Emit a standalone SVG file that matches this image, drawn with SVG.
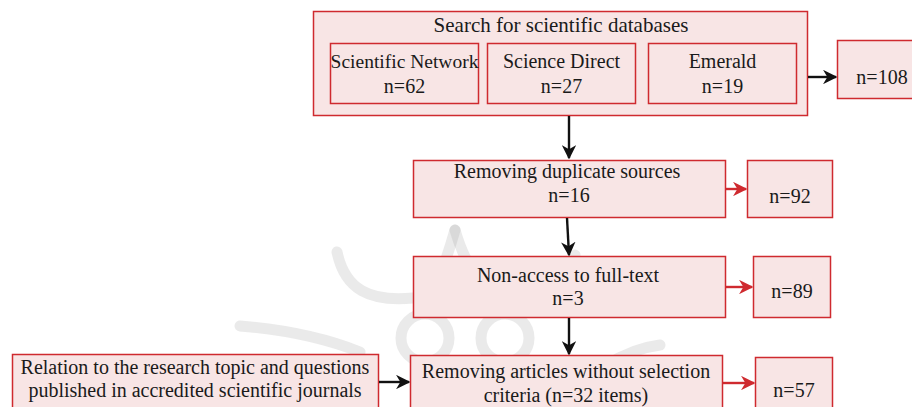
<svg xmlns="http://www.w3.org/2000/svg" width="912" height="407" viewBox="0 0 912 407">
<defs>
<style>
.box{fill:#f8e5e5;stroke:#cf2a2f;stroke-width:1.5}
.t{font-family:"Liberation Serif","Times New Roman",serif;font-size:20px;fill:#1a1a1a;text-anchor:middle}
.k{stroke:#111;stroke-width:2.4;fill:none}
.r{stroke:#cf2a2f;stroke-width:2.4;fill:none}
.wm{fill:none;stroke:#a0a0a0;stroke-width:11;stroke-linecap:round;opacity:0.22}
</style>
<marker id="ak" viewBox="0 0 10 10" refX="9" refY="5" markerWidth="6" markerHeight="6" orient="auto" markerUnits="strokeWidth"><path d="M0,0 L10,5 L0,10 L3,5 z" fill="#111"/></marker>
<marker id="ar" viewBox="0 0 10 10" refX="9" refY="5" markerWidth="6" markerHeight="6" orient="auto" markerUnits="strokeWidth"><path d="M0,0 L10,5 L0,10 L3,5 z" fill="#cf2a2f"/></marker>
</defs>
<rect width="912" height="407" fill="#fff"/>
<g id="watermark">
<path class="wm" d="M337,252 C345,290 370,302 413,298"/>
<path class="wm" d="M455,230 C445,265 435,290 425,310"/>
<path class="wm" d="M455,230 C465,265 480,285 500,300"/>
<circle class="wm" cx="425" cy="338" r="24"/>
<circle class="wm" cx="505" cy="338" r="24"/>
<path class="wm" d="M575,255 C565,290 545,300 505,305"/>
<path class="wm" d="M240,326 C290,330 330,340 360,352"/>
<path class="wm" d="M660,345 C620,350 590,375 565,400"/>
</g>
<g id="n-search"><rect class="box" x="313.5" y="11.5" width="494" height="104"/><text class="t" x="561" y="32" style="font-size:21px">Search for scientific databases</text></g>
<g id="n-sn"><rect class="box" x="330.5" y="43.5" width="148" height="60"/><text class="t" x="404.5" y="68" style="font-size:19.5px">Scientific Network</text><text class="t" x="404.5" y="93">n=62</text></g>
<g id="n-sd"><rect class="box" x="487.5" y="43.5" width="148" height="60"/><text class="t" x="561.5" y="68">Science Direct</text><text class="t" x="561.5" y="93">n=27</text></g>
<g id="n-em"><rect class="box" x="648.5" y="43.5" width="148" height="60"/><text class="t" x="722.5" y="68">Emerald</text><text class="t" x="722.5" y="93">n=19</text></g>
<g id="n-108"><rect class="box" x="837.5" y="40.5" width="90" height="58"/><text class="t" x="882" y="84">n=108</text></g>
<g id="n-dup"><rect class="box" x="413.5" y="160.5" width="312" height="57"/><text class="t" x="567" y="178">Removing duplicate sources</text><text class="t" x="569" y="202">n=16</text></g>
<g id="n-92"><rect class="box" x="747.5" y="160.5" width="85" height="57"/><text class="t" x="790" y="203">n=92</text></g>
<g id="n-acc"><rect class="box" x="413.5" y="256.5" width="312" height="61"/><text class="t" x="568" y="282">Non-access to full-text</text><text class="t" x="568" y="305">n=3</text></g>
<g id="n-89"><rect class="box" x="753.5" y="256.5" width="77" height="61"/><text class="t" x="792" y="298">n=89</text></g>
<g id="n-rem"><rect class="box" x="410.5" y="355.5" width="312" height="60"/><text class="t" x="566" y="378">Removing articles without selection</text><text class="t" x="566" y="402">criteria (n=32 items)</text></g>
<g id="n-57"><rect class="box" x="755.5" y="357.5" width="77" height="60"/><text class="t" x="794" y="397">n=57</text></g>
<g id="n-rel"><rect class="box" x="12.5" y="354.5" width="366" height="60"/><text class="t" x="195" y="374">Relation to the research topic and questions</text><text class="t" x="195" y="397">published in accredited scientific journals</text></g>
<g id="connectors">
<path class="k" d="M569,116 L569,158" marker-end="url(#ak)"/>
<path class="k" d="M567,218 L569,255" marker-end="url(#ak)"/>
<path class="k" d="M569,318 L569,354" marker-end="url(#ak)"/>
<path class="k" d="M808,77 L836,77" marker-end="url(#ak)"/>
<path class="k" d="M379,382 L409,382" marker-end="url(#ak)"/>
<path class="r" d="M726,189 L746,189" marker-end="url(#ar)"/>
<path class="r" d="M726,287 L752,287" marker-end="url(#ar)"/>
<path class="r" d="M723,383 L754,383" marker-end="url(#ar)"/>
</g>
</svg>
